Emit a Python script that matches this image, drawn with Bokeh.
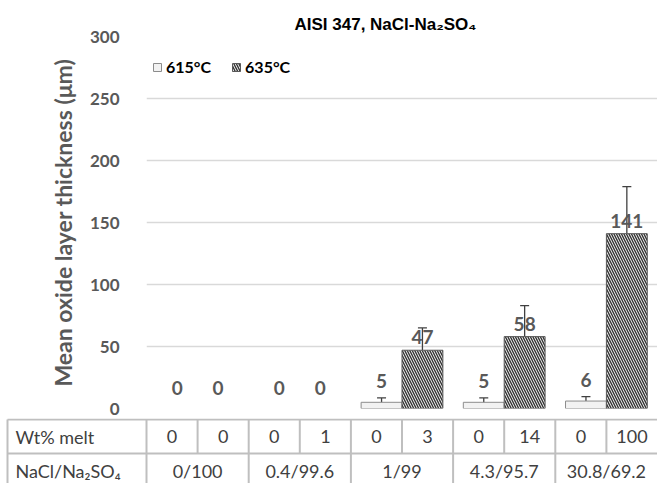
from bokeh.plotting import figure
from bokeh.models import (Range1d, FixedTicker, ColumnDataSource, Whisker, TeeHead,
                          Legend, LegendItem)
from bokeh.embed import file_html
from bokeh.resources import INLINE
from bokeh.core.properties import value

# ---------------- data ----------------
title_text = "AISI 347, NaCl-Na\u2082SO\u2084"
y_label = "Mean oxide layer thickness (\u03bcm)"
groups = ["0/100", "0.4/99.6", "1/99", "4.3/95.7", "30.8/69.2"]
temps = ["615\u00b0C", "635\u00b0C"]
thick_615 = [0, 0, 5, 5, 6]
thick_635 = [0, 0, 47, 58, 141]
err_615 = [0, 0, 3.5, 3.5, 3.5]
err_635 = [0, 0, 18, 25, 38]
melt_615 = [0, 0, 0, 0, 0]
melt_635 = [0, 1, 3, 14, 100]
y_ticks = [0, 50, 100, 150, 200, 250, 300]
row_headers = ["Wt% melt", "NaCl/Na\u2082SO\u2084"]

# ---------------- style ----------------
GRAY = "#595959"
DARK = "#404040"
FONT = "Lato"
n = len(groups)
bar_w = 0.4
W = 657
LEFT = 146          # pixel where the plot frame starts
GROUP_PX = (W - LEFT) / n
HDR = (LEFT - 7) / GROUP_PX   # header column width in group units

# ---------------- main chart ----------------
p = figure(width=W, height=418, x_range=Range1d(0, n), y_range=Range1d(0, 300),
           output_backend="svg", toolbar_location=None,
           min_border_left=LEFT, min_border_right=0, min_border_top=36,
           min_border_bottom=10, title=title_text)
p.title.align = "left"
p.title.offset = 148
p.title.text_font = "Liberation Sans"
p.title.text_font_size = "17px"
p.title.text_font_style = "bold"
p.title.text_color = "black"
p.title.standoff = 6

p.xaxis.visible = False
p.xgrid.visible = False
p.outline_line_color = None
p.ygrid.grid_line_color = "#d9d9d9"
p.ygrid.grid_line_width = 1.5
p.yaxis.ticker = FixedTicker(ticks=y_ticks)
p.yaxis.axis_line_color = None
p.yaxis.major_tick_line_color = None
p.yaxis.minor_tick_line_color = None
p.yaxis.major_label_text_font = FONT
p.yaxis.major_label_text_font_style = "bold"
p.yaxis.major_label_text_font_size = "17px"
p.yaxis.major_label_text_color = GRAY
p.yaxis.major_label_standoff = 21
p.yaxis.axis_label = y_label
p.yaxis.axis_label_text_font = FONT
p.yaxis.axis_label_text_font_style = "bold"
p.yaxis.axis_label_text_font_size = "23px"
p.yaxis.axis_label_text_color = GRAY
p.yaxis.axis_label_standoff = 10

x615 = [i + 0.3 for i in range(n)]
x635 = [i + 0.7 for i in range(n)]

s615 = ColumnDataSource(dict(x=x615, top=thick_615,
                             la=[1 if v > 0 else 0 for v in thick_615]))
s635 = ColumnDataSource(dict(x=x635, top=thick_635,
                             la=[1 if v > 0 else 0 for v in thick_635]))

r615 = p.vbar(x="x", top="top", width=bar_w, source=s615,
              fill_color="#f2f2f2", line_color="#8c8c8c", line_alpha="la",
              line_width=1)
r635 = p.vbar(x="x", top="top", width=bar_w, source=s635,
              fill_color="#f2f2f2", line_color=GRAY, line_alpha="la", line_width=1,
              hatch_pattern="\\", hatch_color="#333333", hatch_scale=5,
              hatch_weight=1.4)

# error bars
def whisk(xs, vals, errs):
    xx, lo, up = [], [], []
    for x, v, e in zip(xs, vals, errs):
        if e > 0:
            xx.append(x); lo.append(v - e); up.append(v + e)
    src = ColumnDataSource(dict(base=xx, lower=lo, upper=up))
    w = Whisker(source=src, base="base", lower="lower", upper="upper",
                line_color=DARK, line_width=1.3,
                upper_head=TeeHead(size=9, line_color=DARK, line_width=1.3),
                lower_head=TeeHead(size=9, line_color=DARK, line_width=1.3))
    p.add_layout(w)

whisk(x615, thick_615, err_615)
whisk(x635, thick_635, err_635)

# data labels
lab_x = x615 + x635
lab_v = thick_615 + thick_635
lab_off = [-14 if v < 10 else -6 for v in lab_v]
lsrc = ColumnDataSource(dict(x=lab_x, y=lab_v, t=[str(v) for v in lab_v], off=lab_off))
p.text(x="x", y="y", text="t", y_offset="off", source=lsrc,
       text_align="center", text_baseline="bottom",
       text_font=value(FONT), text_font_style="bold", text_font_size="19px",
       text_color=GRAY)

legend = Legend(items=[LegendItem(label=temps[0], renderers=[r615], index=2),
                       LegendItem(label=temps[1], renderers=[r635], index=2)],
                orientation="horizontal", location=(6, 332),
                border_line_color=None, background_fill_alpha=0,
                padding=0, margin=0, spacing=20, label_standoff=4,
                glyph_width=10, glyph_height=10, label_height=16,
                label_text_font=FONT, label_text_font_style="bold",
                label_text_font_size="16px", label_text_color="black")
p.add_layout(legend)

# ---------------- table ----------------
ROW_PX = 34
TH = 65
y_top = 2 + 1 / ROW_PX
t = figure(width=W, height=TH, x_range=Range1d(-LEFT / GROUP_PX, n),
           y_range=Range1d(y_top - TH / ROW_PX, y_top), output_backend="svg",
           toolbar_location=None, min_border=0)
t.axis.visible = False
t.grid.visible = False
t.outline_line_color = None

ybot = y_top - TH / ROW_PX
x0, y0, x1, y1 = [], [], [], []
for yy in (2, 1):
    x0.append(-HDR); x1.append(n); y0.append(yy); y1.append(yy)
for xx in [-HDR] + list(range(n)):
    x0.append(xx); x1.append(xx); y0.append(ybot); y1.append(2)
for i in range(n):
    x0.append(i + 0.5); x1.append(i + 0.5); y0.append(1); y1.append(2)
t.segment(x0=x0, y0=y0, x1=x1, y1=y1, line_color="#bfbfbf", line_width=2)

cell_x, cell_t = [], []
for i in range(n):
    cell_x += [i + 0.25, i + 0.75]
    cell_t += [str(melt_615[i]), str(melt_635[i])]
t.text(x=cell_x, y=[1.5] * len(cell_x), text=cell_t, text_align="center",
       text_baseline="middle", text_font=value(FONT), text_font_size="18px",
       text_color=DARK)
t.text(x=[i + 0.5 for i in range(n)], y=[0.5] * n, text=groups, text_align="center",
       text_baseline="middle", text_font=value(FONT), text_font_size="18px",
       text_color=DARK)
t.text(x=[-HDR, -HDR], y=[1.5, 0.5], text=row_headers, x_offset=8,
       text_align="left", text_baseline="middle", text_font=value(FONT),
       text_font_size="18px", text_color=DARK)

open("out.html", "w").write(file_html([p, t], INLINE))
